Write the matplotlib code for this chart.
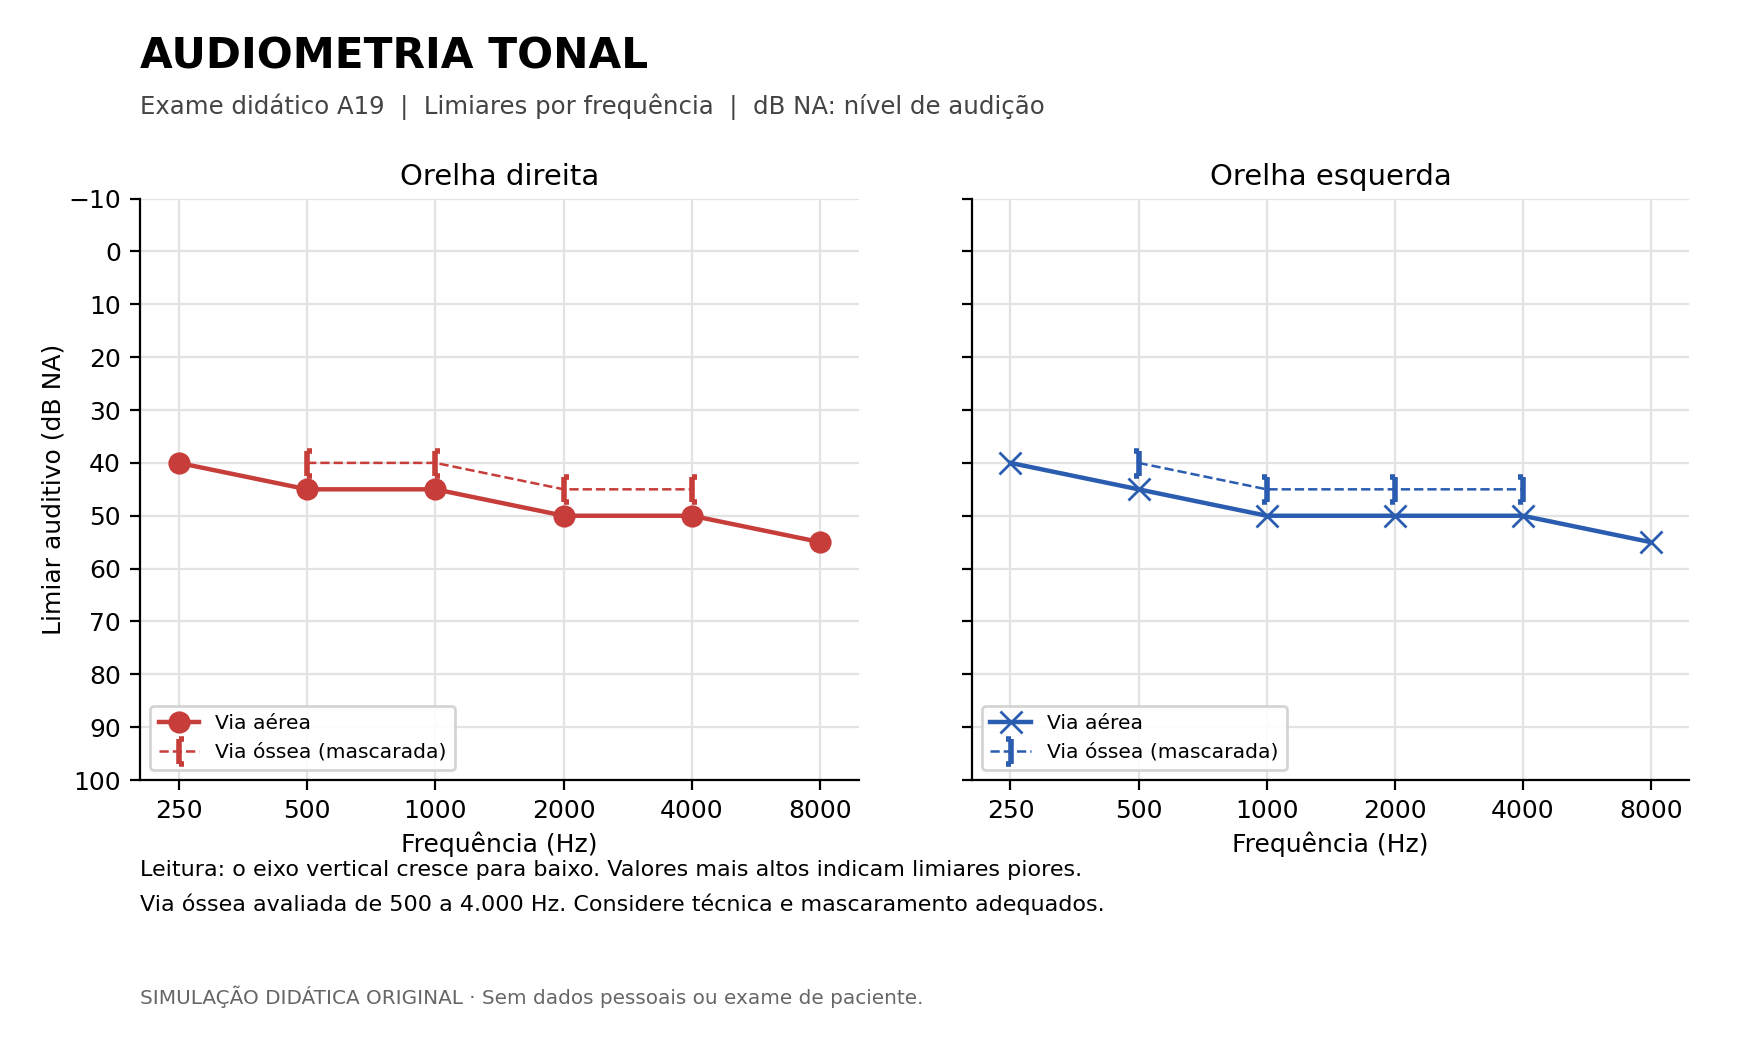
import matplotlib
matplotlib.use("Agg")
import matplotlib.pyplot as plt
from matplotlib.path import Path

freqs = ["250", "500", "1000", "2000", "4000", "8000"]
right_air = [40, 45, 45, 50, 50, 55]
right_bone_freqs = ["500", "1000", "2000", "4000"]
right_bone = [40, 40, 45, 45]
left_air = [40, 45, 50, 50, 50, 55]
left_bone_freqs = ["500", "1000", "2000", "4000"]
left_bone = [40, 45, 45, 45]
yticks = list(range(-10, 101, 10))

RED = "#C63D3A"
BLUE = "#2A5CB0"

# bracket markers: bar at the data point, serifs pointing away
lb = Path([(0, -1), (0, 1), (0, 1), (0.4, 1), (0, -1), (0.4, -1)],
          [Path.MOVETO, Path.LINETO, Path.MOVETO, Path.LINETO, Path.MOVETO, Path.LINETO])
rb = Path([(0, -1), (0, 1), (0, 1), (-0.4, 1), (0, -1), (-0.4, -1)],
          [Path.MOVETO, Path.LINETO, Path.MOVETO, Path.LINETO, Path.MOVETO, Path.LINETO])

fig = plt.figure(figsize=(8.8, 5.2), dpi=200)
ax1 = fig.add_axes([0.0797, 0.250, 0.4083, 0.559])
ax2 = fig.add_axes([0.5523, 0.250, 0.4075, 0.559], sharey=ax1)

xpos = {f: i for i, f in enumerate(freqs)}

def setup(ax, title):
    ax.set_xticks(range(len(freqs)))
    ax.set_xticklabels(freqs, fontsize=9)
    ax.set_xlim(-0.3, 5.3)
    ax.set_ylim(100, -10)
    ax.set_yticks(yticks)
    ax.tick_params(axis="y", labelsize=9)
    ax.grid(True, color="#e3e3e3", linewidth=0.8)
    ax.set_axisbelow(True)
    ax.spines["top"].set_visible(False)
    ax.spines["right"].set_visible(False)
    ax.set_title(title, fontsize=10.5, pad=5)
    ax.set_xlabel("Frequência (Hz)", fontsize=9, labelpad=3)

# Right ear
ax1.plot(range(len(freqs)), right_air, color=RED, lw=1.6, marker="o", ms=7, label="Via aérea")
ax1.plot([xpos[f] for f in right_bone_freqs], right_bone, color=RED, lw=0.9, ls="--",
         marker=lb, ms=9, mew=2.0, mfc="none", label="Via óssea (mascarada)")
setup(ax1, "Orelha direita")
ax1.set_ylabel("Limiar auditivo (dB NA)", fontsize=9, labelpad=1)
ax1.legend(loc="lower left", fontsize=7.3, framealpha=0.9, edgecolor="#d0d0d0")

# Left ear
ax2.plot(range(len(freqs)), left_air, color=BLUE, lw=1.6, marker="x", ms=8, mew=1.0, label="Via aérea")
ax2.plot([xpos[f] for f in left_bone_freqs], left_bone, color=BLUE, lw=0.9, ls="--",
         marker=rb, ms=9, mew=2.0, mfc="none", label="Via óssea (mascarada)")
setup(ax2, "Orelha esquerda")
plt.setp(ax2.get_yticklabels(), visible=False)
ax2.legend(loc="lower left", fontsize=7.3, framealpha=0.9, edgecolor="#d0d0d0")

fig.text(0.0797, 0.946, "AUDIOMETRIA TONAL", fontsize=15.2, fontweight="bold", va="center")
fig.text(0.0797, 0.8975, "Exame didático A19  |  Limiares por frequência  |  dB NA: nível de audição",
         fontsize=8.8, color="#444444", va="center")
fig.text(0.0797, 0.1635, "Leitura: o eixo vertical cresce para baixo. Valores mais altos indicam limiares piores.",
         fontsize=8.0, va="center")
fig.text(0.0797, 0.131, "Via óssea avaliada de 500 a 4.000 Hz. Considere técnica e mascaramento adequados.",
         fontsize=8.0, va="center")
fig.text(0.0797, 0.0416, "SIMULAÇÃO DIDÁTICA ORIGINAL · Sem dados pessoais ou exame de paciente.",
         fontsize=7.2, color="#666666", va="center")

fig.savefig("out.png", dpi=200, facecolor="white")
